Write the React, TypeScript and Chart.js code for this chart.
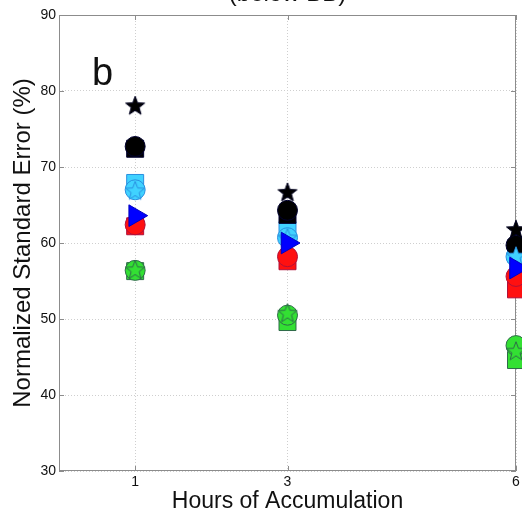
import React, { useEffect, useRef } from "react";
import { Chart, registerables } from "chart.js";

Chart.register(...registerables);

// ---- data ----
const hours = [1, 3, 6];
const yTicks = [30, 40, 50, 60, 70, 80, 90];

const blackStar = [78.0, 66.6, 61.7];
const blackCircle = [72.7, 64.3, 59.7];
const blackSquare = [72.4, 63.7, 59.3];
const cyanSquare = [67.9, 61.7, 58.6];
const cyanCircle = [67.0, 60.7, 58.2];
const cyanStar = [66.8, 60.6, 58.2];
const blueTriangle = [63.6, 60.0, 56.7];
const redCircle = [62.4, 58.2, 55.6];
const redSquare = [62.2, 57.6, 53.9];
const greenCircle = [56.4, 50.5, 46.5];
const greenStar = [56.4, 50.7, 45.7];
const greenSquare = [56.3, 49.6, 44.6];

const FONT = "'Liberation Sans', Arial, Helvetica, sans-serif";

function makeStar(fill: string, stroke: string, r: number): HTMLCanvasElement {
  const size = Math.ceil(r * 2 + 4);
  const c = document.createElement("canvas");
  c.width = size;
  c.height = size;
  const ctx = c.getContext("2d")!;
  const cx = size / 2;
  const cy = size / 2;
  const inner = r * 0.42;
  ctx.beginPath();
  for (let i = 0; i < 10; i++) {
    const rad = i % 2 === 0 ? r : inner;
    const a = -Math.PI / 2 + (i * Math.PI) / 5;
    const x = cx + rad * Math.cos(a);
    const y = cy + rad * Math.sin(a);
    if (i === 0) ctx.moveTo(x, y);
    else ctx.lineTo(x, y);
  }
  ctx.closePath();
  ctx.fillStyle = fill;
  ctx.fill();
  ctx.lineWidth = 1;
  ctx.strokeStyle = stroke;
  ctx.stroke();
  return c;
}

function pts(vals: number[]) {
  return hours.map((h, i) => ({ x: h, y: vals[i] }));
}

export default function App() {
  const ref = useRef<HTMLCanvasElement | null>(null);

  useEffect(() => {
    if (!ref.current) return;

    const boxPlugin = {
      id: "matlabBox",
      beforeDatasetsDraw(chart: any) {
        const { ctx, chartArea } = chart;
        const { left, right, top, bottom } = chartArea;
        ctx.save();
        ctx.strokeStyle = "#8c8c8c";
        ctx.lineWidth = 1;
        ctx.strokeRect(left + 0.5, top + 0.5, right - left - 1, bottom - top - 1);
        // inward tick marks
        const ys = chart.scales.y;
        const xs = chart.scales.x;
        const tl = 5;
        ctx.beginPath();
        yTicks.forEach((v) => {
          const py = Math.round(ys.getPixelForValue(v)) + 0.5;
          ctx.moveTo(left, py);
          ctx.lineTo(left + tl, py);
          ctx.moveTo(right, py);
          ctx.lineTo(right - tl, py);
        });
        hours.forEach((v) => {
          const px = Math.round(xs.getPixelForValue(v)) + 0.5;
          ctx.moveTo(px, bottom);
          ctx.lineTo(px, bottom - tl);
          ctx.moveTo(px, top);
          ctx.lineTo(px, top + tl);
        });
        ctx.stroke();
        ctx.restore();
      },
      afterDraw(chart: any) {
        const { ctx, chartArea } = chart;
        ctx.save();
        ctx.fillStyle = "#111";
        ctx.textAlign = "center";
        ctx.textBaseline = "alphabetic";
        ctx.font = `24px ${FONT}`;
        ctx.fillText("(below BB)", (chartArea.left + chartArea.right) / 2, 1);
        ctx.textAlign = "left";
        ctx.font = `38px ${FONT}`;
        ctx.fillText("b", chartArea.left + 33, 85);
        ctx.restore();
      },
    };

    const starBlack = makeStar("#000000", "#000020", 10);
    const starCyan = makeStar("#40d2ff", "#2a8fe0", 10);
    const starGreen = makeStar("#33e033", "#2f6a4a", 10);

    const mk = (label: string, vals: number[], style: any, fill: string, border: string, radius: number, order: number, rotation = 0) => ({
      label,
      data: pts(vals),
      pointStyle: style,
      pointRadius: radius,
      pointHoverRadius: radius,
      pointRotation: rotation,
      backgroundColor: fill,
      borderColor: border,
      pointBorderWidth: 1,
      showLine: false,
      clip: false as any,
      order,
    });

    const chart = new Chart(ref.current, {
      type: "scatter",
      data: {
        datasets: [
          mk("black square", blackSquare, "rect", "#000000", "#000030", 12, 4),
          mk("cyan square", cyanSquare, "rect", "#40d2ff", "#2a8fe0", 12, 4),
          mk("red square", redSquare, "rect", "#ff1010", "#b0103a", 12, 4),
          mk("green square", greenSquare, "rect", "#33e033", "#2f6a4a", 12, 4),
          mk("black circle", blackCircle, "circle", "#000000", "#000030", 10, 3),
          mk("cyan circle", cyanCircle, "circle", "#40d2ff", "#2a8fe0", 10, 3),
          mk("red circle", redCircle, "circle", "#ff1010", "#b0103a", 10, 3),
          mk("green circle", greenCircle, "circle", "#33e033", "#2f6a4a", 10, 3),
          mk("black star", blackStar, starBlack, "#000000", "#000000", 10, 2),
          mk("cyan star", cyanStar, starCyan, "#40d2ff", "#2a8fe0", 10, 2),
          mk("green star", greenStar, starGreen, "#33e033", "#2f6a4a", 10, 2),
          mk("blue triangle", blueTriangle, "triangle", "#0000ff", "#0000c0", 12.5, 1, 90),
        ],
      },
      options: {
        animation: false,
        responsive: false,
        maintainAspectRatio: false,
        events: [],
        layout: { autoPadding: false, padding: { left: 0, top: 15, right: 6, bottom: 0 } },
        plugins: {
          legend: { display: false },
          tooltip: { enabled: false },
          title: { display: false },
        },
        scales: {
          x: {
            type: "linear",
            min: 0,
            max: 6,
            afterBuildTicks: (axis: any) => {
              axis.ticks = hours.map((v) => ({ value: v }));
            },
            afterFit: (axis: any) => {
              axis.height = 46;
              axis.paddingLeft = 0;
              axis.paddingRight = 0;
            },
            ticks: {
              color: "#111",
              font: { family: FONT, size: 14 },
              padding: 3,
              maxRotation: 0,
              autoSkip: false,
              callback: (v: any) => String(v),
            },
            grid: { color: "#cfcfcf", lineWidth: 1, drawTicks: false },
            border: { display: false, dash: [1, 2] },
            title: {
              display: true,
              text: "Hours of Accumulation",
              color: "#111",
              font: { family: FONT, size: 23 },
              padding: { top: 0, bottom: 2 },
            },
          },
          y: {
            type: "linear",
            min: 30,
            max: 90,
            afterBuildTicks: (axis: any) => {
              axis.ticks = yTicks.map((v) => ({ value: v }));
            },
            afterFit: (axis: any) => {
              axis.width = 59;
              axis.paddingTop = 0;
              axis.paddingBottom = 0;
            },
            ticks: {
              color: "#111",
              font: { family: FONT, size: 14 },
              padding: 3,
              callback: (v: any) => String(v),
            },
            grid: { color: "#cfcfcf", lineWidth: 1, drawTicks: false },
            border: { display: false, dash: [1, 2] },
            title: {
              display: true,
              text: "Normalized Standard Error (%)",
              color: "#111",
              font: { family: FONT, size: 24 },
              padding: { top: 9, bottom: 0 },
            },
          },
        },
      },
      plugins: [boxPlugin],
    } as any);

    return () => chart.destroy();
  }, []);

  return (
    <div style={{ position: "absolute", left: 0, top: 0, width: 522, height: 517, overflow: "hidden" }}>
      <canvas ref={ref} width={522} height={517} style={{ display: "block", width: 522, height: 517 }} />
    </div>
  );
}
